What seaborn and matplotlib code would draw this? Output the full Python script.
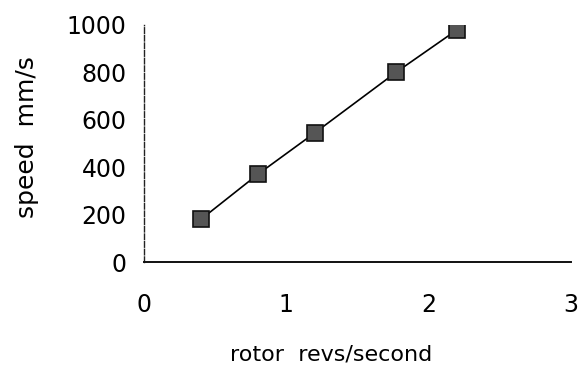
import matplotlib
matplotlib.use("Agg")
import matplotlib.pyplot as plt
import seaborn as sns
import pandas as pd

revs = [0.4, 0.8, 1.2, 1.77, 2.2]
speed = [180, 370, 545, 800, 980]
x_ticks = [0, 1, 2, 3]
y_ticks = [0, 200, 400, 600, 800, 1000]

sns.set_style("white")
plt.rcParams['font.family'] = ['DejaVu Sans']

df = pd.DataFrame({"revs": revs, "speed": speed})

fig = plt.figure(figsize=(5.82, 3.71), dpi=100)
ax = fig.add_axes([144/582, 1-262/371, (571-144)/582, (262-25)/371])

sns.lineplot(data=df, x="revs", y="speed", ax=ax, color="black", linewidth=1.2,
             marker="s", markersize=12, markerfacecolor="#555555",
             markeredgecolor="#111111", markeredgewidth=1.2)

ax.set_xlim(0, 3)
ax.set_ylim(0, 1000)
ax.set_xticks(x_ticks)
ax.set_yticks(y_ticks)
ax.set_xticklabels([str(v) for v in x_ticks], fontsize=17, color="black")
ax.set_yticklabels([str(v) for v in y_ticks], fontsize=17, color="black")

for s in ["top", "right"]:
    ax.spines[s].set_visible(False)
ax.spines["left"].set_linestyle((0, (4, 1.5)))
ax.spines["left"].set_linewidth(1.0)
ax.spines["left"].set_color("#222222")
ax.spines["bottom"].set_linewidth(1.4)
ax.spines["bottom"].set_color("#111111")

ax.tick_params(axis="x", direction="inout", length=4, width=0.8, pad=20, colors="black")
ax.tick_params(axis="y", direction="inout", length=5, width=0.8, pad=10, colors="black")

ax.set_xlabel("rotor  revs/second", fontsize=16, color="black")
ax.set_ylabel("speed  mm/s", fontsize=18, color="black")
ax.xaxis.set_label_coords(0.438, -0.35)
ax.yaxis.set_label_coords(-0.245, 0.527)

fig.savefig("out.png", dpi=100)
